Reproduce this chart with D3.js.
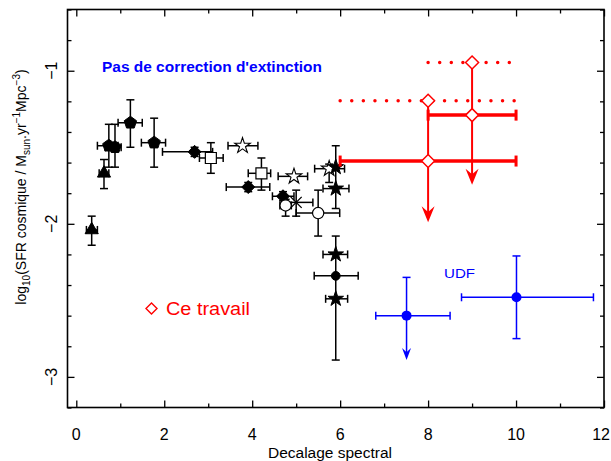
<!DOCTYPE html>
<html>
<head>
<meta charset="utf-8">
<script src="https://cdn.jsdelivr.net/npm/d3@7"></script>
<style>
  body { margin: 0; background: #fff; }
  text { font-family: "Liberation Sans", Arial, sans-serif; }
</style>
</head>
<body>
<div id="chart"></div>
<script>
//size of the svg
var width = 611;
var height = 461;

//each point is [x, y, xlo, xhi, ylo, yhi]
var triangles = [[0.35, -2.04, 0.23, 0.48, -2.14, -1.95],
                 [0.63, -1.67, 0.52, 0.74, -1.77, -1.58]];
var pentagons = [[0.74, -1.49, 0.48, 0.95, -1.63, -1.35],
                 [0.88, -1.50, 0.66, 1.02, -1.63, -1.35],
                 [1.23, -1.34, 0.95, 1.50, -1.50, -1.19],
                 [1.77, -1.47, 1.48, 2.03, -1.63, -1.31]];
var filledDiamonds = [[2.69, -1.53, 1.96, 3.10, -1.56, -1.50],
                      [3.91, -1.76, 3.41, 4.40, -1.79, -1.73],
                      [4.70, -1.82, 4.46, 4.95, -1.85, -1.79]];
var openSquares = [[3.06, -1.57, 2.80, 3.34, -1.67, -1.47],
                   [4.21, -1.67, 3.91, 4.42, -1.78, -1.57]];
var openStars = [[3.78, -1.49, 3.45, 4.13, -1.49, -1.49],
                 [4.95, -1.69, 4.59, 5.26, -1.69, -1.69],
                 [5.75, -1.64, 5.42, 6.10, -1.73, -1.61]];
var filledStars = [[5.90, -1.63, 5.90, 5.90, -1.90, -1.49],
                   [5.90, -1.77, 5.61, 6.20, -1.77, -1.77],
                   [5.90, -2.20, 5.61, 6.17, -2.20, -2.20],
                   [5.90, -2.49, 5.67, 6.17, -2.49, -2.49]];
var filledCircles = [[5.90, -2.34, 5.41, 6.41, -2.89, -2.08]];
var openCircles = [[4.76, -1.88, 4.63, 4.89, -1.95, -1.84],
                   [5.50, -1.93, 5.00, 5.99, -2.08, -1.78]];
var crosses = [[5.00, -1.86, 4.80, 5.38, -1.95, -1.78]];

//this work: [x, y, xlo, xhi, upper limit arrow end]
var ceTravail = [[8, -1.59, 6, 10, -1.99],
                 [9, -1.29, 8, 10, -1.745]];
//same points with extinction correction: [x, y, xlo, xhi]
var ceTravailCorr = [[8, -1.196, 6, 10],
                     [9, -0.946, 8, 10]];

//UDF points: [x, y, xlo, xhi, ylo, yhi, isLimit]
var udf = [[7.51, -2.60, 6.81, 8.50, -2.89, -2.35, true],
           [10.01, -2.48, 8.76, 11.76, -2.75, -2.21, false]];

var xMajor = [0, 2, 4, 6, 8, 10, 12];
var xMinor = [1, 3, 5, 7, 9, 11];
var yMajor = [-3, -2, -1];
var yMinor = [-3.2, -2.8, -2.6, -2.4, -2.2, -1.8, -1.6, -1.4, -1.2, -0.8, -0.6];

var plot = {left: 67.5, right: 604, top: 9.5, bottom: 407.5};

var svg = d3.select("#chart")
            .append("svg")
            .attr("width", width)
            .attr("height", height);

var xScale = d3.scaleLinear().domain([-0.2, 12]).range([plot.left, plot.right]);
var yScale = d3.scaleLinear().domain([-3.2, -0.6]).range([plot.bottom, plot.top]);

//ticks pointing inward on all four sides
function tickAxis(axisFn, scale, values, size, transform) {
  svg.append("g")
     .attr("transform", transform)
     .call(axisFn(scale).tickValues(values).tickSize(size).tickFormat(""))
     .call(function(g) { g.select(".domain").remove(); })
     .selectAll("line").attr("stroke", "#000").attr("stroke-width", 1.3);
}
tickAxis(d3.axisBottom, xScale, xMajor, -7, "translate(0," + plot.bottom + ")");
tickAxis(d3.axisBottom, xScale, xMinor, -4, "translate(0," + plot.bottom + ")");
tickAxis(d3.axisTop, xScale, xMajor, -7, "translate(0," + plot.top + ")");
tickAxis(d3.axisTop, xScale, xMinor, -4, "translate(0," + plot.top + ")");
tickAxis(d3.axisLeft, yScale, yMajor, -7, "translate(" + plot.left + ",0)");
tickAxis(d3.axisLeft, yScale, yMinor, -4, "translate(" + plot.left + ",0)");
tickAxis(d3.axisRight, yScale, yMajor, -7, "translate(" + plot.right + ",0)");
tickAxis(d3.axisRight, yScale, yMinor, -4, "translate(" + plot.right + ",0)");

//frame
svg.append("rect")
   .attr("x", plot.left).attr("y", plot.top)
   .attr("width", plot.right - plot.left)
   .attr("height", plot.bottom - plot.top)
   .attr("fill", "none").attr("stroke", "#000").attr("stroke-width", 1.6);

//tick labels (last one kept inside the window)
svg.selectAll(".xlab").data(xMajor).enter().append("text")
   .attr("x", function(d, i) { return i === xMajor.length - 1 ? width - 1 : xScale(d); })
   .attr("y", 440)
   .attr("text-anchor", function(d, i) { return i === xMajor.length - 1 ? "end" : "middle"; })
   .style("font-size", "16px")
   .text(function(d) { return d; });
svg.selectAll(".ylab").data(yMajor).enter().append("text")
   .attr("transform", function(d) { return "translate(57," + yScale(d) + ") rotate(-90)"; })
   .attr("text-anchor", "middle")
   .style("font-size", "16px")
   .text(function(d) { return "\u2212" + Math.abs(d); });

//axis titles
svg.append("text")
   .attr("x", 330).attr("y", 458)
   .attr("text-anchor", "middle")
   .style("font-size", "15.5px")
   .text("Decalage spectral");

var ylab = svg.append("text")
   .attr("transform", "translate(26,187) rotate(-90)")
   .attr("text-anchor", "middle")
   .style("font-size", "14px");
ylab.append("tspan").text("log");
ylab.append("tspan").attr("dy", 4).style("font-size", "10px").text("10");
ylab.append("tspan").attr("dy", -4).text("(SFR cosmique  /  M");
ylab.append("tspan").attr("dy", 4).style("font-size", "10px").text("sun");
ylab.append("tspan").attr("dy", -4).text(".yr");
ylab.append("tspan").attr("dy", -6).style("font-size", "10px").text("\u22121");
ylab.append("tspan").attr("dy", 6).text("Mpc");
ylab.append("tspan").attr("dy", -6).style("font-size", "10px").text("\u22123");
ylab.append("tspan").attr("dy", 6).text(")");

//black error bars with caps
var errG = svg.append("g").attr("stroke", "#000").attr("stroke-width", 1.5);
function errorBars(data, g, cap) {
  data.forEach(function(d) {
    var cx = xScale(d[0]), cy = yScale(d[1]);
    if (d[2] !== d[3]) {
      g.append("line").attr("x1", xScale(d[2])).attr("x2", xScale(d[3]))
       .attr("y1", cy).attr("y2", cy);
      [d[2], d[3]].forEach(function(v) {
        g.append("line").attr("x1", xScale(v)).attr("x2", xScale(v))
         .attr("y1", cy - cap).attr("y2", cy + cap);
      });
    }
    if (d[4] !== d[5]) {
      g.append("line").attr("x1", cx).attr("x2", cx)
       .attr("y1", yScale(d[4])).attr("y2", yScale(d[5]));
      [d[4], d[5]].forEach(function(v) {
        g.append("line").attr("x1", cx - cap).attr("x2", cx + cap)
         .attr("y1", yScale(v)).attr("y2", yScale(v));
      });
    }
  });
}
[triangles, pentagons, filledDiamonds, openSquares, openStars,
 filledStars, filledCircles, openCircles, crosses].forEach(function(set) {
  errorBars(set, errG, 4);
});

//marker shapes
function pentagonPath(r) {
  var pts = d3.range(5).map(function(i) {
    var a = -Math.PI / 2 + i * 2 * Math.PI / 5;
    return [r * Math.cos(a), r * Math.sin(a)];
  });
  return "M" + pts.join("L") + "Z";
}
function diamondPath(r) {
  return "M0," + (-r) + "L" + r + ",0L0," + r + "L" + (-r) + ",0Z";
}
function squarePath(r) {
  return "M" + (-r) + "," + (-r) + "h" + (2 * r) + "v" + (2 * r) + "h" + (-2 * r) + "Z";
}
function crossPath(r) {
  return "M" + (-r) + "," + (-r) + "L" + r + "," + r + "M" + r + "," + (-r) + "L" + (-r) + "," + r;
}
var starPath = d3.symbol().type(d3.symbolStar).size(75)();
var trianglePath = d3.symbol().type(d3.symbolTriangle).size(75)();

function markers(data, path, fill, stroke, sw) {
  svg.append("g").selectAll("path").data(data).enter().append("path")
     .attr("transform", function(d) { return "translate(" + xScale(d[0]) + "," + yScale(d[1]) + ")"; })
     .attr("d", path)
     .attr("fill", fill)
     .attr("stroke", stroke)
     .attr("stroke-width", sw);
}
markers(triangles, trianglePath, "#000", "#000", 1);
markers(pentagons, pentagonPath(6.5), "#000", "#000", 1);
markers(filledDiamonds, diamondPath(6.5), "#000", "#000", 1);
markers(openSquares, squarePath(5.5), "#fff", "#000", 1.2);
markers(openStars, starPath, "#fff", "#000", 1.1);
markers(filledStars, starPath, "#000", "#000", 1);
markers(openCircles, d3.symbol().type(d3.symbolCircle).size(100)(), "#fff", "#000", 1.2);
markers(filledCircles, d3.symbol().type(d3.symbolCircle).size(60)(), "#000", "#000", 1);
markers(crosses, crossPath(5.5), "none", "#000", 1.3);

//downward arrow head with tip at (x, y)
function arrowHead(g, x, y, w, h, color) {
  g.append("path")
   .attr("d", "M" + x + "," + y + "L" + (x - w) + "," + (y - h) +
              "L" + x + "," + (y - h * 0.65) + "L" + (x + w) + "," + (y - h) + "Z")
   .attr("fill", color).attr("stroke", "none");
}

//red: this work
var red = "#ff0000";
var redG = svg.append("g");
//dotted extinction-corrected ranges
ceTravailCorr.forEach(function(d) {
  redG.append("line")
      .attr("x1", xScale(d[2])).attr("x2", xScale(d[3]))
      .attr("y1", yScale(d[1])).attr("y2", yScale(d[1]))
      .attr("stroke", red).attr("stroke-width", 3.5)
      .attr("stroke-linecap", "round")
      .attr("stroke-dasharray", "0,11.6");
});
//vertical lines from corrected value down to limit arrow
ceTravail.forEach(function(d, i) {
  var cx = xScale(d[0]);
  redG.append("line")
      .attr("x1", cx).attr("x2", cx)
      .attr("y1", yScale(ceTravailCorr[i][1])).attr("y2", yScale(d[4]) - 8)
      .attr("stroke", red).attr("stroke-width", 2);
  arrowHead(redG, cx, yScale(d[4]), 6.5, 16, red);
});
//thick horizontal ranges
ceTravail.forEach(function(d) {
  var cy = yScale(d[1]);
  redG.append("line")
      .attr("x1", xScale(d[2])).attr("x2", xScale(d[3]))
      .attr("y1", cy).attr("y2", cy)
      .attr("stroke", red).attr("stroke-width", 3.5);
  [d[2], d[3]].forEach(function(v) {
    redG.append("line")
        .attr("x1", xScale(v)).attr("x2", xScale(v))
        .attr("y1", cy - 5.5).attr("y2", cy + 5.5)
        .attr("stroke", red).attr("stroke-width", 3);
  });
});
var redDiamonds = ceTravail.concat(ceTravailCorr);
redG.selectAll(".rd").data(redDiamonds).enter().append("path")
    .attr("transform", function(d) { return "translate(" + xScale(d[0]) + "," + yScale(d[1]) + ")"; })
    .attr("d", diamondPath(6.5))
    .attr("fill", "#fff").attr("stroke", red).attr("stroke-width", 1.5);

//blue: UDF
var blue = "#0000ff";
var blueG = svg.append("g").attr("stroke", blue).attr("stroke-width", 1.5);
udf.forEach(function(d) {
  var cx = xScale(d[0]), cy = yScale(d[1]);
  blueG.append("line").attr("x1", xScale(d[2])).attr("x2", xScale(d[3]))
       .attr("y1", cy).attr("y2", cy);
  [d[2], d[3]].forEach(function(v) {
    blueG.append("line").attr("x1", xScale(v)).attr("x2", xScale(v))
         .attr("y1", cy - 4).attr("y2", cy + 4);
  });
  var yLo = d[6] ? yScale(d[4]) - 6 : yScale(d[4]);
  blueG.append("line").attr("x1", cx).attr("x2", cx)
       .attr("y1", yScale(d[5])).attr("y2", yLo);
  blueG.append("line").attr("x1", cx - 4).attr("x2", cx + 4)
       .attr("y1", yScale(d[5])).attr("y2", yScale(d[5]));
  if (d[6]) {
    arrowHead(blueG, cx, yScale(d[4]), 4.5, 12, blue);
  } else {
    blueG.append("line").attr("x1", cx - 4).attr("x2", cx + 4)
         .attr("y1", yScale(d[4])).attr("y2", yScale(d[4]));
  }
  blueG.append("circle").attr("cx", cx).attr("cy", cy).attr("r", 5)
       .attr("fill", blue).attr("stroke", "none");
});

//annotations
svg.append("text")
   .attr("x", 102).attr("y", 72)
   .attr("fill", blue)
   .attr("textLength", 220).attr("lengthAdjust", "spacingAndGlyphs")
   .style("font-size", "14.5px").style("font-weight", "bold")
   .text("Pas de correction d'extinction");
svg.append("text")
   .attr("x", 444).attr("y", 278)
   .attr("fill", blue)
   .attr("textLength", 31).attr("lengthAdjust", "spacingAndGlyphs")
   .style("font-size", "13.5px")
   .text("UDF");
svg.append("path")
   .attr("transform", "translate(151.5,308.5)")
   .attr("d", diamondPath(5.5))
   .attr("fill", "none").attr("stroke", red).attr("stroke-width", 1.4);
svg.append("text")
   .attr("x", 166).attr("y", 315)
   .attr("fill", red)
   .attr("textLength", 84).attr("lengthAdjust", "spacingAndGlyphs")
   .style("font-size", "17.5px")
   .text("Ce travail");
</script>
</body>
</html>
